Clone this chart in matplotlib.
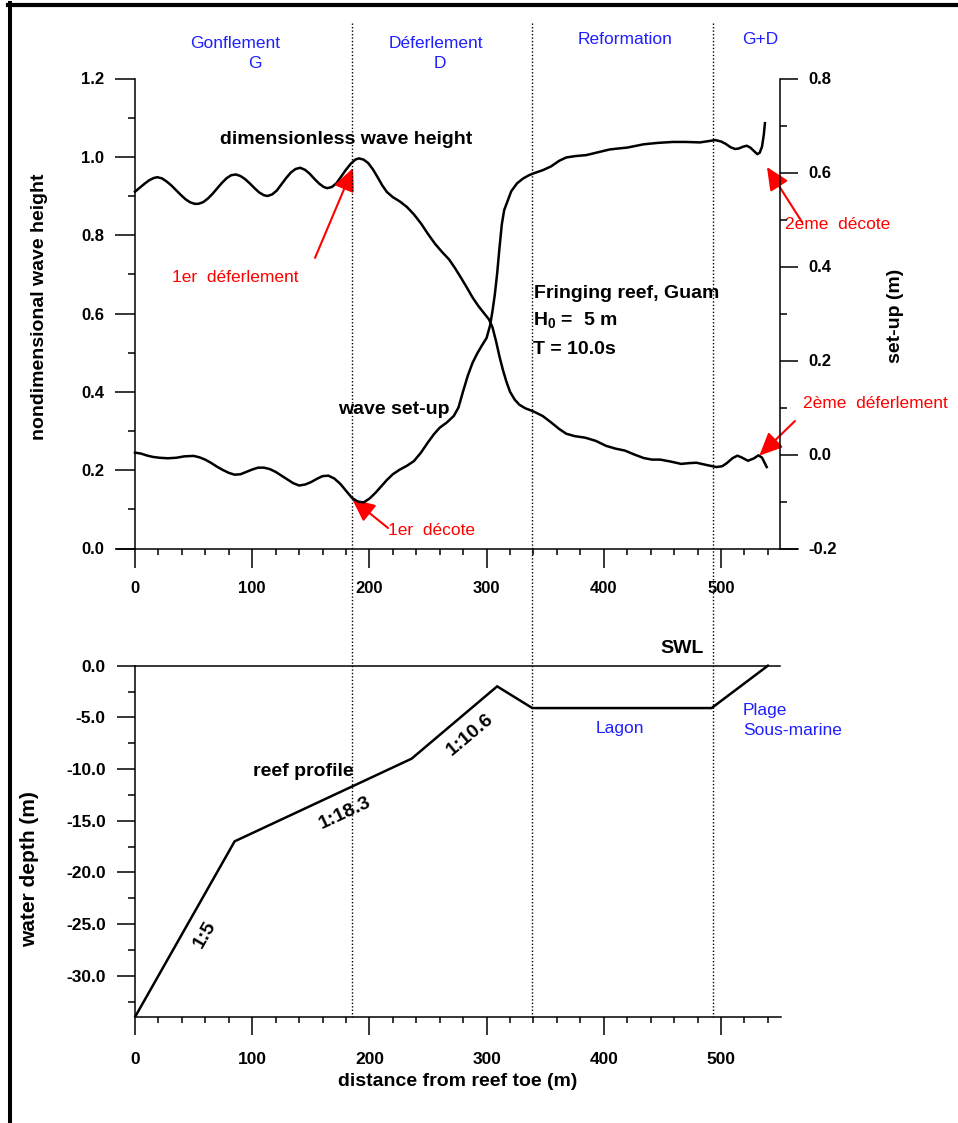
import matplotlib
matplotlib.use('Agg')
import matplotlib.pyplot as plt
from matplotlib.lines import Line2D
import matplotlib.transforms as mtransforms

plt.rcParams['font.family'] = ['Liberation Sans', 'DejaVu Sans']

# ---------------- data ----------------
dist_h = [0, 4, 8, 12, 16, 19, 23, 27, 31, 35, 39, 43, 47, 51, 54, 58, 62, 66, 70,
          74, 78, 82, 86, 90, 94, 98, 102, 106, 110, 113, 117, 121, 125, 129, 133,
          137, 141, 145, 149, 153, 157, 161, 164, 168, 172, 176, 180, 184, 188, 191,
          195, 199, 203, 207, 211, 215, 220, 226, 232, 238, 244, 250, 256, 262, 268,
          273, 278, 283, 288, 293, 298, 302, 305, 308, 311, 314, 317, 320, 324, 328,
          333, 340, 348, 355, 362, 368, 375, 384, 393, 402, 410, 418, 426, 434, 441,
          448, 457, 466, 473, 479, 488, 496, 501, 505, 510, 514, 518, 523, 528, 532,
          535, 537, 539]
wave_height = [0.911, 0.921, 0.931, 0.940, 0.946, 0.948, 0.945, 0.937, 0.927, 0.915,
               0.903, 0.892, 0.884, 0.880, 0.880, 0.884, 0.893, 0.905, 0.919, 0.933,
               0.945, 0.953, 0.955, 0.951, 0.943, 0.932, 0.920, 0.909, 0.902, 0.900,
               0.904, 0.914, 0.930, 0.946, 0.960, 0.969, 0.972, 0.967, 0.957, 0.944,
               0.932, 0.923, 0.920, 0.923, 0.933, 0.950, 0.967, 0.982, 0.993, 0.996,
               0.993, 0.984, 0.968, 0.948, 0.927, 0.910, 0.897, 0.886, 0.872, 0.853,
               0.830, 0.803, 0.778, 0.757, 0.738, 0.716, 0.692, 0.667, 0.641, 0.619,
               0.600, 0.585, 0.565, 0.530, 0.490, 0.455, 0.425, 0.400, 0.380, 0.367,
               0.358, 0.350, 0.338, 0.322, 0.305, 0.293, 0.287, 0.283, 0.275, 0.262,
               0.255, 0.250, 0.240, 0.231, 0.227, 0.227, 0.222, 0.216, 0.218, 0.219,
               0.213, 0.208, 0.210, 0.218, 0.231, 0.237, 0.232, 0.224, 0.230, 0.238,
               0.232, 0.220, 0.208]

dist_s = [0, 5, 10, 15, 21, 28, 35, 42, 50, 55, 60, 65, 70, 75, 80, 85, 90, 95, 100,
          105, 110, 115, 120, 125, 130, 135, 140, 145, 150, 155, 160, 165, 170, 175,
          180, 185, 190, 195, 200, 205, 210, 215, 220, 226, 232, 238, 244, 250, 255,
          260, 266, 272, 276, 280, 284, 288, 292, 296, 300, 303, 305, 307, 309, 311,
          313, 315, 318, 321, 326, 331, 336, 341, 348, 355, 362, 368, 376, 385, 395,
          405, 412, 420, 428, 434, 446, 459, 470, 482, 490, 495, 500, 504, 508, 512,
          515, 519, 522, 525, 528, 531, 533, 535, 536.5, 537.5]
setup = [0.004, 0.002, -0.002, -0.005, -0.007, -0.008, -0.007, -0.004, -0.003,
         -0.006, -0.011, -0.018, -0.026, -0.033, -0.039, -0.043, -0.042, -0.037,
         -0.032, -0.028, -0.028, -0.031, -0.037, -0.045, -0.053, -0.061, -0.066,
         -0.064, -0.059, -0.052, -0.046, -0.045, -0.051, -0.062, -0.077, -0.092,
         -0.100, -0.102, -0.094, -0.082, -0.068, -0.054, -0.042, -0.032, -0.024,
         -0.014, 0.004, 0.026, 0.043, 0.057, 0.068, 0.082, 0.100, 0.135, 0.168,
         0.195, 0.215, 0.232, 0.248, 0.275, 0.305, 0.340, 0.385, 0.440, 0.490,
         0.520, 0.540, 0.560, 0.577, 0.587, 0.594, 0.599, 0.605, 0.613, 0.625,
         0.632, 0.635, 0.637, 0.643, 0.649, 0.651, 0.653, 0.657, 0.660, 0.663,
         0.665, 0.665, 0.664, 0.667, 0.669, 0.666, 0.661, 0.654, 0.650, 0.651,
         0.655, 0.657, 0.653, 0.646, 0.639, 0.642, 0.655, 0.680, 0.705]

profile_x = [0, 85, 236, 309, 339, 492, 540]
profile_depth = [-34.0, -17.0, -9.0, -2.0, -4.1, -4.1, 0.0]

zone_bounds = [185, 339, 493]
zone_names = ["Gonflement", "Déferlement", "Reformation", "G+D"]
zone_letters = ["G", "D"]

x_major = [0, 100, 200, 300, 400, 500]
x_minor = [v for v in range(20, 541, 20) if v % 100 != 0]
h_ticks = [0.0, 0.2, 0.4, 0.6, 0.8, 1.0, 1.2]
h_minor = [0.1, 0.3, 0.5, 0.7, 0.9, 1.1]
s_ticks = [-0.2, 0.0, 0.2, 0.4, 0.6, 0.8]
s_minor = [-0.1, 0.1, 0.3, 0.5, 0.7]
d_ticks = [0, -5, -10, -15, -20, -25, -30]
d_minor = [-2.5, -7.5, -12.5, -17.5, -22.5, -27.5, -32.5]

# ---------------- figure ----------------
W, H = 958, 1123
fig = plt.figure(figsize=(W / 100, H / 100), dpi=100)


def fx(px):
    return px / W


def fy(py):
    return 1 - py / H


BLUE = '#1f1fff'
RED = '#ff0000'
XL = (-15.36, 565.7)

# ---- top panel ----
ax = fig.add_axes([fx(117), fy(548.5), (798 - 117) / W, (548.5 - 78.5) / H])
ax.set_xlim(*XL)
ax.set_ylim(0, 1.2)
for s in ('top', 'right'):
    ax.spines[s].set_visible(False)
ax.spines['left'].set_position(('data', 0))
ax.spines['left'].set_bounds(0, 1.2)
for s in ('left', 'bottom'):
    ax.spines[s].set_linewidth(1.1)
ax.set_xticks(x_major, [str(v) for v in x_major], fontsize=12, fontweight='bold')
ax.set_xticks(x_minor, minor=True)
ax.set_yticks(h_ticks, [f"{v:.1f}" for v in h_ticks], fontsize=12, fontweight='bold')
ax.set_yticks(h_minor, minor=True)
ax.tick_params(axis='x', which='major', length=13.7, width=1.1, pad=10)
ax.tick_params(axis='x', which='minor', length=4.3, width=1.1)
ax.tick_params(axis='y', which='major', length=14.4, width=1.1, pad=8)
ax.tick_params(axis='y', which='minor', length=5, width=1.1)
ax.plot(dist_h, wave_height, color='black', lw=1.8, solid_joinstyle='round')

ax2 = ax.twinx()
ax2.set_ylim(-0.199, 0.7925)
for s in ('top', 'left', 'bottom'):
    ax2.spines[s].set_visible(False)
ax2.spines['right'].set_position(('data', 550))
ax2.spines['right'].set_bounds(-0.2, 0.8)
ax2.spines['right'].set_linewidth(1.1)
ax2.set_yticks(s_ticks, [f"{v:.1f}" for v in s_ticks], fontsize=12, fontweight='bold')
ax2.set_yticks(s_minor, minor=True)
ax2.tick_params(axis='y', which='major', length=13, width=1.1, pad=8)
ax2.tick_params(axis='y', which='minor', length=5, width=1.1)
ax2.plot(dist_s, setup, color='black', lw=1.8, solid_joinstyle='round', clip_on=False)

# black annotations
bold = dict(fontsize=14, fontweight='bold', color='black', va='center', ha='left')
ax.text(72.5, 1.043, "dimensionless wave height", **bold)
ax.text(173.2, 0.356, "wave set-up", **bold)
ax.text(340.4, 0.652, "Fringing reef, Guam", **bold)
ax.text(339.6, 0.581, r"H$_{\mathregular{0}}$ =  5 m", **bold)
ax.text(339.6, 0.509, "T = 10.0s", **bold)

# red arrows
arrow_style = dict(arrowstyle='-|>,head_length=0.7,head_width=0.32', color=RED,
                   lw=1.5, mutation_scale=20, shrinkA=0, shrinkB=0)
red = dict(fontsize=12.5, color=RED, va='center')
ax.annotate('', xy=(186, 0.9715), xytext=(153.6, 0.742), arrowprops=arrow_style,
            annotation_clip=False)
ax.text(85.7, 0.691, "1er  déferlement", ha='center', **red)
ax.annotate('', xy=(185.2, 0.1264), xytext=(215.9, 0.0523), arrowprops=arrow_style,
            annotation_clip=False)
ax.text(215.9, 0.0447, "1er  décote", ha='left', **red)
ax.annotate('', xy=(539.2, 0.974), xytext=(569.1, 0.8336), arrowprops=arrow_style,
            annotation_clip=False)
ax.text(554.6, 0.8285, "2ème  décote", ha='left', clip_on=False, **red)
ax.annotate('', xy=(532.7, 0.237), xytext=(563.1, 0.3255), arrowprops=arrow_style,
            annotation_clip=False)
ax.text(570, 0.369, "2ème  déferlement", ha='left', clip_on=False, **red)

# ---- bottom panel ----
ax3 = fig.add_axes([fx(117), fy(1017), (798 - 117) / W, (1017 - 634.7) / H])
ax3.set_xlim(*XL)
ax3.set_ylim(-34, 3)
for s in ('top', 'right'):
    ax3.spines[s].set_visible(False)
ax3.spines['left'].set_position(('data', 0))
ax3.spines['left'].set_bounds(-34, 0)
ax3.spines['bottom'].set_bounds(0, 551)
for s in ('left', 'bottom'):
    ax3.spines[s].set_linewidth(1.1)
ax3.set_xticks(x_major, [str(v) for v in x_major], fontsize=12.5, fontweight='bold')
ax3.set_xticks(x_minor, minor=True)
ax3.set_yticks(d_ticks, [f"{v:.1f}" for v in d_ticks], fontsize=12.5, fontweight='bold')
ax3.set_yticks(d_minor, minor=True)
ax3.tick_params(axis='x', which='major', length=13, width=1.1, pad=12)
ax3.tick_params(axis='x', which='minor', length=4.3, width=1.1)
ax3.tick_params(axis='y', which='major', length=13, width=1.1, pad=8)
ax3.tick_params(axis='y', which='minor', length=5, width=1.1)
ax3.plot([0, 550], [0, 0], color='black', lw=1.1)
ax3.plot(profile_x, profile_depth, color='black', lw=1.8, solid_joinstyle='miter')

ax3.text(448, 1.71, "SWL", **bold)
ax3.text(100.7, -10.28, "reef profile", **bold)
rot = dict(fontsize=14, fontweight='bold', ha='center', va='center', rotation_mode='anchor')
ax3.text(179.2, -14.25, "1:18.3", rotation=25, **rot)
ax3.text(285.8, -6.7, "1:10.6", rotation=40, **rot)
ax3.text(59.4, -26.05, "1:5", rotation=60, **rot)
blue = dict(fontsize=12.5, color=BLUE, va='center')
ax3.text(413.8, -6.12, "Lagon", ha='center', **blue)
ax3.text(518.8, -4.38, "Plage", ha='left', **blue)
ax3.text(518.8, -6.3, "Sous-marine", ha='left', **blue)

# ---- axis titles ----
fig.text(fx(40), fy(307), "nondimensional wave height", rotation=90, fontsize=14,
         fontweight='bold', ha='center', va='center')
fig.text(fx(895), fy(316), "set-up (m)", rotation=90, fontsize=14,
         fontweight='bold', ha='center', va='center')
fig.text(fx(30), fy(869), "water depth (m)", rotation=90, fontsize=15,
         fontweight='bold', ha='center', va='center')
fig.text(fx(458), fy(1082), "distance from reef toe (m)", fontsize=14,
         fontweight='bold', ha='center', va='center')

# ---- zone headers ----
hdr = dict(fontsize=12.5, color=BLUE, ha='center', va='center')
fig.text(fx(235), fy(43), zone_names[0], **hdr)
fig.text(fx(255), fy(64), zone_letters[0], **hdr)
fig.text(fx(436), fy(43), zone_names[1], **hdr)
fig.text(fx(440), fy(64), zone_letters[1], **hdr)
fig.text(fx(625), fy(40), zone_names[2], **hdr)
fig.text(fx(760), fy(40), zone_names[3], **hdr)

# ---- dotted zone boundaries spanning both panels ----
trans = mtransforms.blended_transform_factory(ax.transData, fig.transFigure)
for xb in zone_bounds:
    fig.add_artist(Line2D([xb, xb], [fy(23), fy(1017)], transform=trans,
                          color='black', lw=1.0, linestyle=(0, (1, 1.5))))

# ---- page frame (top and left) ----
fig.add_artist(Line2D([fx(8), 1], [fy(4.5), fy(4.5)], transform=fig.transFigure,
                      color='black', lw=3.0))
fig.add_artist(Line2D([fx(9.5), fx(9.5)], [fy(3), 0], transform=fig.transFigure,
                      color='black', lw=2.9))

fig.savefig('out.png', dpi=100)
